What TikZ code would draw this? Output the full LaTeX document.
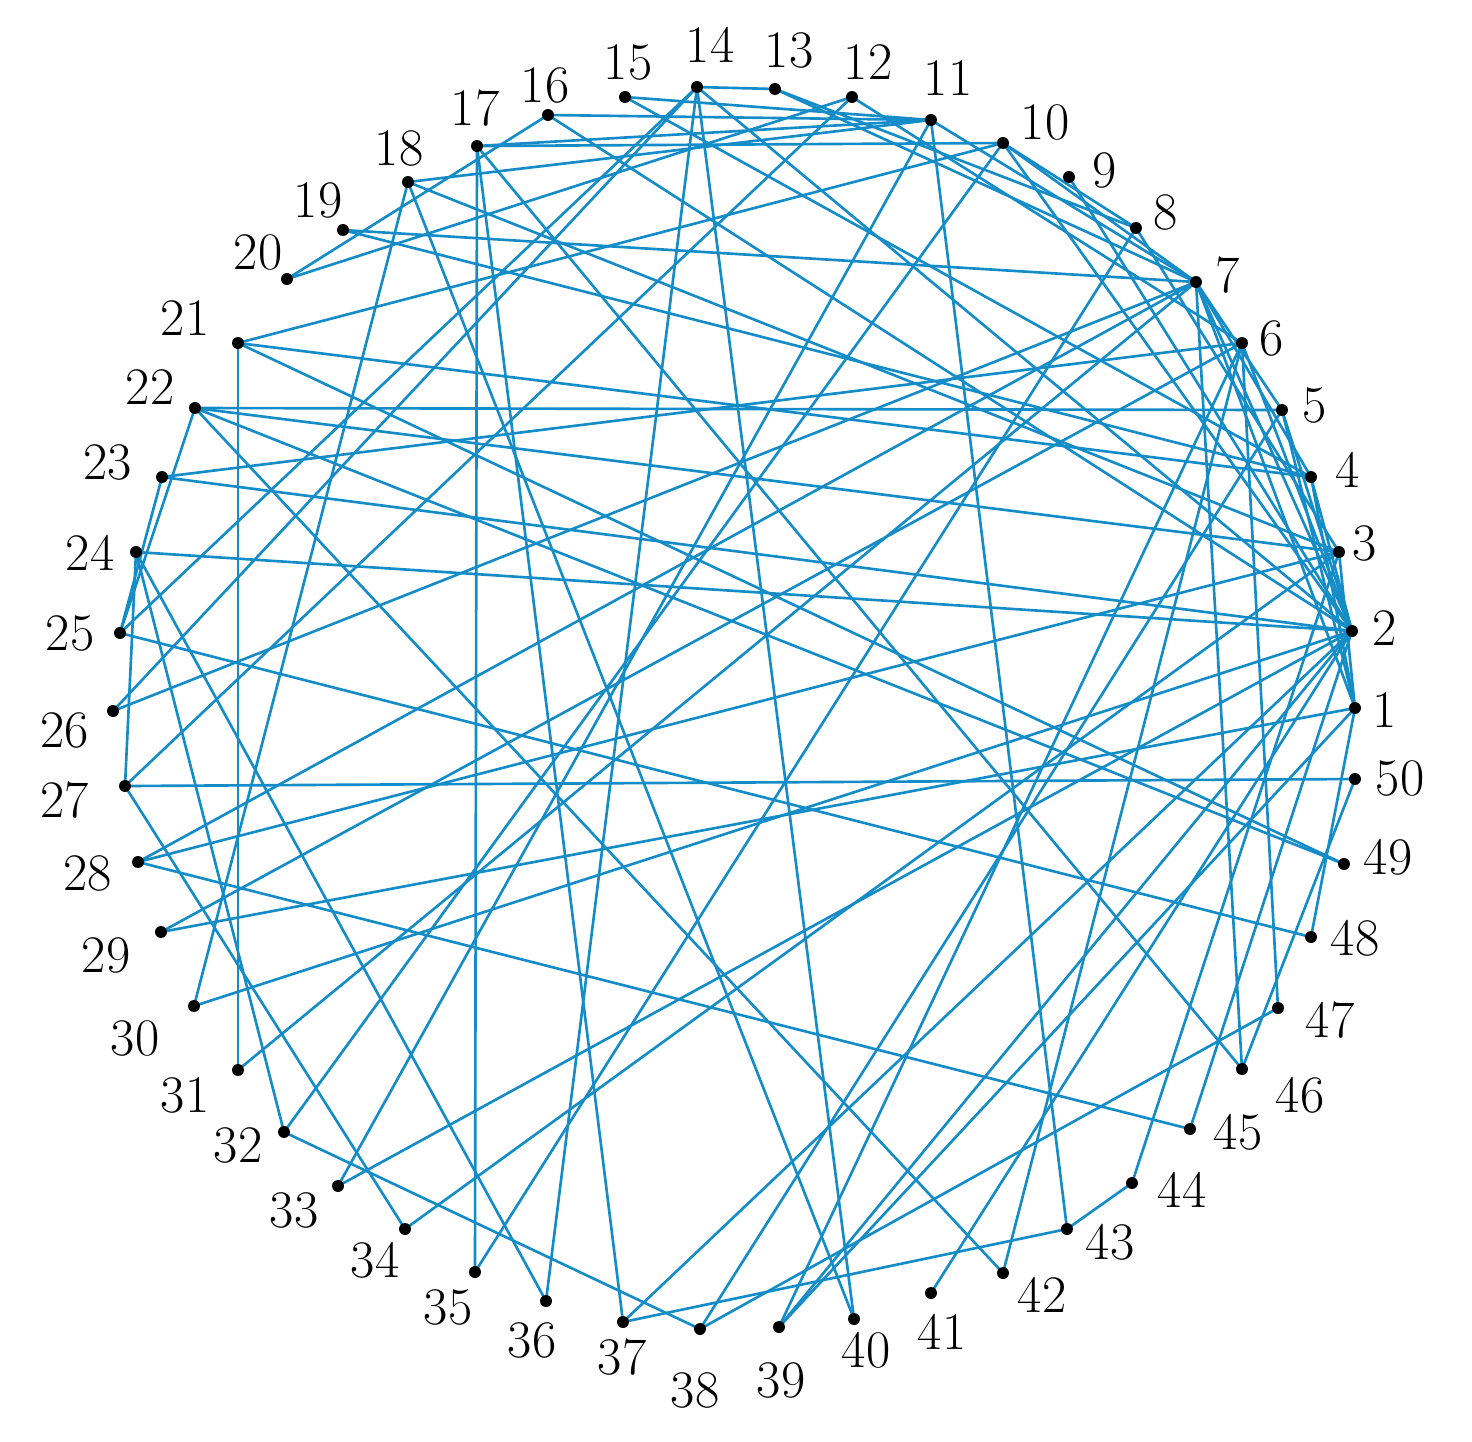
\documentclass[tikz,border=0pt]{standalone}
\usetikzlibrary{calc}
\definecolor{edgeblue}{RGB}{20,140,200}
\tikzset{
  vtx/.style={circle,fill=black,inner sep=0pt,minimum size=3.4pt},
  lbl/.style={font=\fontsize{15}{17}\selectfont,inner sep=0pt},
  edge/.style={draw=edgeblue,line width=0.75pt}
}
\begin{document}
\begin{tikzpicture}[x=0.01cm,y=-0.01cm]
\useasboundingbox (0,0) rectangle (1472,1441);
% vertices
\foreach \n/\x/\y in {1/1355/708,2/1352/631,3/1339/552,4/1311/477,5/1282/410,6/1242/343,7/1196/282,8/1136/228,9/1069/177,10/1003/143,11/931/120,12/852/97,13/775/89,14/697/87,15/625/97,16/548/115,17/477/146,18/408/182,19/343/230,20/287/279,21/238/343,22/195/408,23/162/477,24/136/552,25/120/633,26/113/711,27/125/786,28/138/862,29/161/932,30/194/1006,31/238/1070,32/284/1132,33/338/1186,34/405/1229,35/475/1272,36/546/1301,37/623/1322,38/700/1329,39/779/1327,40/854/1319,41/931/1293,42/1003/1273,43/1067/1229,44/1132/1183,45/1190/1129,46/1242/1069,47/1278/1008,48/1311/937,49/1344/864,50/1355/779}
  \coordinate (v\n) at (\x,\y);
% edges
\foreach \a/\b in {13/14,11/16,11/15,14/40,18/40,11/43,25/48,22/49,21/49,1/29,1/48,24/27,14/26,7/26,28/45,27/34,27/50,5/22,21/31,17/35,17/37,17/46,7/46,16/20,10/21,4/21,3/22,22/42,22/25,6/42,43/44,37/43,2/41,32/38,38/47,24/36,14/36,8/35,18/30,2/30,7/31,24/32,10/32,11/33,2/33,3/34,7/28,3/28,6/29,12/27,14/25,7/19,11/18,3/18,6/23,2/23,23/25,2/24,2/45,3/44,2/37,6/39,2/39,1/39,5/38,11/17,4/15,8/13,7/13,6/12,2/16,2/9,3/8,8/10,7/10,2/10,10/17,12/20,7/2,7/1,6/2,5/1,4/1,5/2,4/2,3/1,7/4,7/5,4/19,6/47,46/50,2/14,7/11}
  \draw[edge] (v\a) -- (v\b);
\foreach \n in {1,...,50} \node[vtx] (n\n) at (v\n) {};
% labels
\foreach \n/\x/\y in {1/1385/710,2/1385/628,3/1365/543,4/1348/470,5/1315/405,6/1272/338,7/1228/275,8/1166/212,9/1105/170,10/1045/122,11/948/78,12/868/62,13/789/50,14/710/45,15/628/62,16/545/85,17/475/108,18/399/148,19/318/200,20/258/252,21/185/318,22/150/387,23/108/462,24/90/553,25/70/633,26/65/730,27/65/800,28/88/873,29/106/955,30/135/1038,31/185/1095,32/238/1145,33/294/1210,34/375/1260,35/448/1307,36/532/1340,37/622/1357,38/695/1390,39/781/1380,40/866/1350,41/942/1332,42/1042/1295,43/1110/1242,44/1182/1190,45/1238/1132,46/1300/1095,47/1330/1020,48/1355/938,49/1388/857,50/1400/778}
  \node[lbl] (t\n) at (\x,\y) {\n};
\end{tikzpicture}
\end{document}
